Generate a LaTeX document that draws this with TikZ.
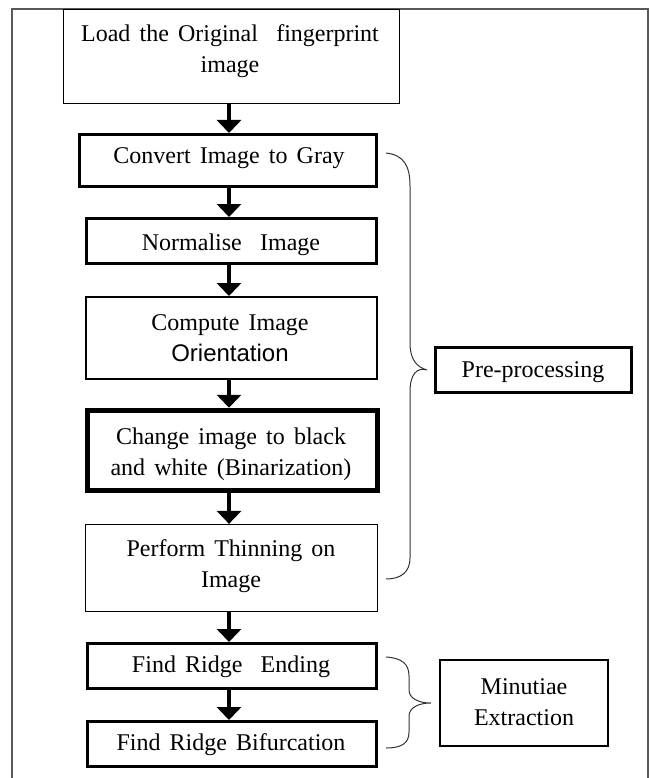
\documentclass[tikz,border=0pt]{standalone}
\usepackage{fontspec}
\setmainfont{Liberation Serif}
\newfontfamily\sansfam{Liberation Sans}
\usetikzlibrary{arrows.meta}
\newcommand\boxfont{\fontsize{24}{31.5}\selectfont\spaceskip=0.38em plus 0.1em minus 0.05em\relax}
\begin{document}
\begin{tikzpicture}[x=1pt,y=-1pt,
  box/.style={draw=black, rectangle, inner sep=0pt},
  txt/.style={align=center, inner sep=0pt, font=\boxfont},
  arr/.style={line width=3.6pt, -{Triangle[width=24pt,length=13pt]}},
  brace/.style={line width=1pt, draw=black!80},
  frame/.style={line width=1.4pt, draw=black!65}]
\useasboundingbox (0,0) rectangle (650,778);
\draw[frame] (12,790) -- (12,9) -- (648,9) -- (648,790);

% boxes
\node[box, line width=1.2pt, minimum width=336pt, minimum height=94pt] (b1) at (231.5,56.5) {};
\node[box, line width=3pt, minimum width=297pt, minimum height=52pt] (b2) at (228,160.5) {};
\node[box, line width=3pt, minimum width=290pt, minimum height=45pt] (b3) at (231.5,241) {};
\node[box, line width=2pt, minimum width=291pt, minimum height=82pt] (b4) at (231.5,338) {};
\node[box, line width=5.5pt, minimum width=290pt, minimum height=80pt] (b5) at (232.5,450.5) {};
\node[box, line width=1.2pt, minimum width=292pt, minimum height=87pt] (b6) at (231.5,568) {};
\node[box, line width=3pt, minimum width=289pt, minimum height=45pt] (b7) at (232,666) {};
\node[box, line width=3pt, minimum width=289pt, minimum height=45pt] (b8) at (232,744) {};
\node[box, line width=3pt, minimum width=196pt, minimum height=45pt] (pre) at (533.5,370) {};
\node[box, line width=2.5pt, minimum width=168pt, minimum height=86pt] (mnt) at (524,703) {};

% texts
\node[txt] (t1) at (230,51) {Load the Original\ \ fingerprint\\image};
\node[txt] (t2) at (229,158) {Convert Image to Gray};
\node[txt] (t3) at (231,245) {Normalise\ \ Image};
\node[txt] (t4) at (230,338) {Compute Image\\{\sansfam Orientation}};
\node[txt] (t5) at (231,454) {Change image to black\\and white (Binarization)};
\node[txt] (t6) at (231,566) {Perform Thinning on\\Image};
\node[txt] (t7) at (231,667) {Find Ridge\ \ Ending};
\node[txt] (t8) at (231,745) {Find Ridge Bifurcation};
\node[txt] (tp) at (533,372) {Pre-processing};
\node[txt] (tm) at (524,702) {Minutiae\\Extraction};

% arrows
\coordinate (ax) at (229,0);
\draw[arr] (b1.south -| ax) -- (b2.north -| ax);
\draw[arr] (b2.south -| ax) -- (b3.north -| ax);
\draw[arr] (b3.south -| ax) -- (b4.north -| ax);
\draw[arr] (b4.south -| ax) -- (b5.north -| ax);
\draw[arr] (b5.south -| ax) -- (b6.north -| ax);
\draw[arr] (b6.south -| ax) -- (b7.north -| ax);
\draw[arr] (b7.south -| ax) -- (b8.north -| ax);

% braces
\coordinate (p1) at ([xshift=-7pt]pre.west);
\draw[brace] (386,153) .. controls (404,155) and (410,166) .. (410,186)
  -- (410,343) .. controls (410,360) and (417,367) .. (p1)
  .. controls (417,367) and (410,374) .. (410,392)
  -- (410,558) .. controls (410,572) and (401,579) .. (386,579);
\coordinate (p2) at ([xshift=-8pt]mnt.west);
\draw[brace] (386,657) .. controls (402,658) and (409,664) .. (409,676)
  -- (409,690) .. controls (409,698) and (418,703) .. (p2)
  .. controls (418,703) and (409,708) .. (409,716)
  -- (409,732) .. controls (409,743) and (402,748) .. (386,748);
\end{tikzpicture}
\end{document}
